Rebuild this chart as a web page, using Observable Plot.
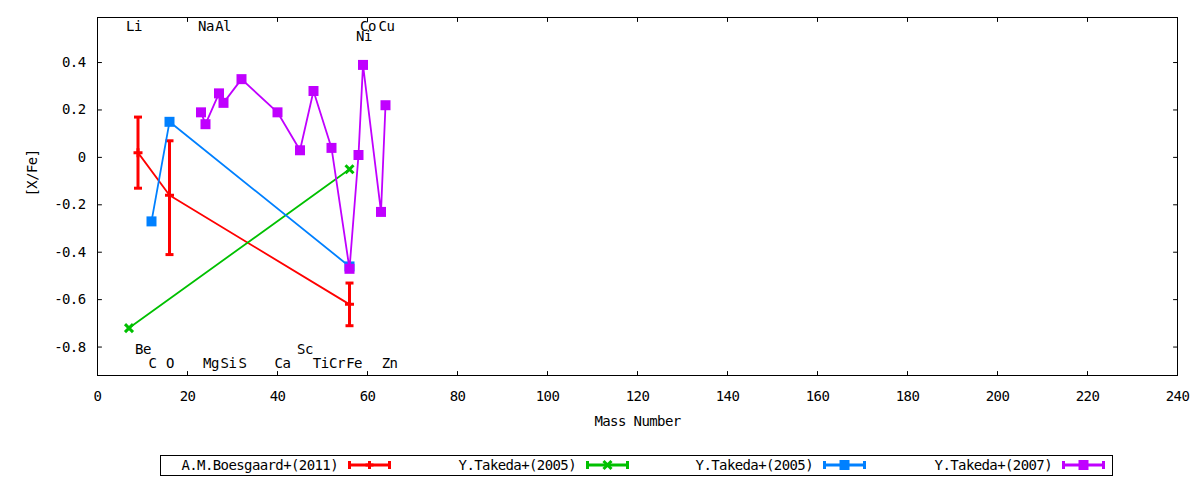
<!DOCTYPE html>
<html><head><meta charset="utf-8">
<script src="https://cdn.jsdelivr.net/npm/d3@7"></script>
<script src="https://cdn.jsdelivr.net/npm/@observablehq/plot@0.6"></script>
<style>
body{margin:0;background:#fff;font-family:"DejaVu Sans Mono",monospace;}
#chart svg text{letter-spacing:-0.6px;}
#legend{position:relative;width:1200px;height:32px;font-size:14px;letter-spacing:-0.6px;color:#000;}
#legend .box{position:absolute;left:160px;top:7px;width:951px;height:19px;border:1px solid #000;}
#legend .lab{position:absolute;top:8px;line-height:18px;white-space:nowrap;text-align:right;}
#legend svg{position:absolute;overflow:visible;}
</style></head>
<body>
<div id="chart"></div>
<div id="legend"></div>
<script>
// ---------- data ----------
const xTicks = [0, 20, 40, 60, 80, 100, 120, 140, 160, 180, 200, 220, 240];
const yTicks = [-0.8, -0.6, -0.4, -0.2, 0, 0.2, 0.4];

const seriesNames = ["A.M.Boesgaard+(2011)", "Y.Takeda+(2005)", "Y.Takeda+(2005)", "Y.Takeda+(2007)"];
const seriesColors = ["#ff0000", "#00c000", "#0080ff", "#c000ff"];

// A.M.Boesgaard+(2011) with error bars
const boesgaardMass = [9, 16, 56];
const boesgaardVal  = [0.02, -0.16, -0.62];
const boesgaardLow  = [-0.13, -0.41, -0.71];
const boesgaardHigh = [0.17, 0.07, -0.53];

// Y.Takeda+(2005) green
const takedaAMass = [7, 56];
const takedaAVal  = [-0.72, -0.05];

// Y.Takeda+(2005) blue
const takedaBMass = [12, 16, 56];
const takedaBVal  = [-0.27, 0.15, -0.46];

// Y.Takeda+(2007) purple
const takeda07Mass = [23, 24, 27, 28, 32, 40, 45, 48, 52, 56, 58, 59, 63, 64];
const takeda07Val  = [0.19, 0.14, 0.27, 0.23, 0.33, 0.19, 0.03, 0.28, 0.04, -0.47, 0.01, 0.39, -0.23, 0.22];

// element labels
const elemNames = ["Li", "Na", "Al", "Co", "Cu", "Ni", "Be", "Sc", "C", "O", "Mg", "Si", "S", "Ca", "Ti", "Cr", "Fe", "Zn"];
const elemX     = [8.1, 24.1, 27.9, 60.1, 64.2, 59.2, 10.1, 46.1, 12.2, 16.1, 25.2, 29.1, 32.2, 41.1, 49.6, 53.2, 57.0, 64.9];
const elemY     = [0.55, 0.55, 0.55, 0.55, 0.55, 0.51, -0.81, -0.81, -0.87, -0.87, -0.87, -0.87, -0.87, -0.87, -0.87, -0.87, -0.87, -0.87];

const xDomain = [0, 240];
const yDomain = [-0.92, 0.59];

// ---------- symbols ----------
const rad = s => Math.sqrt(s / Math.PI);
const symHBar = {draw(c, s) { const r = rad(s); c.moveTo(-r, 0); c.lineTo(r, 0); }};
const symPlus = {draw(c, s) { const r = rad(s); c.moveTo(-r, 0); c.lineTo(r, 0); c.moveTo(0, -r); c.lineTo(0, r); }};
const symTimes = {draw(c, s) { const r = rad(s); c.moveTo(-r, -r); c.lineTo(r, r); c.moveTo(-r, r); c.lineTo(r, -r); }};
const symSquare = {draw(c, s) { const r = rad(s); c.rect(-r, -r, 2 * r, 2 * r); }};
const tickShape = {draw(c, l) { c.moveTo(0, 0); c.lineTo(0, -l); }};

// ---------- tables ----------
const rows = (m, v) => m.map((x, i) => ({x, y: v[i]}));
const boesRows = boesgaardMass.map((x, i) => ({x, y: boesgaardVal[i], lo: boesgaardLow[i], hi: boesgaardHigh[i]}));
const takedaARows = rows(takedaAMass, takedaAVal);
const takedaBRows = rows(takedaBMass, takedaBVal);
const takeda07Rows = rows(takeda07Mass, takeda07Val);
const elemRows = elemNames.map((t, i) => ({t, x: elemX[i], y: elemY[i]}));

const fmt = d => String(+(+d).toFixed(1));
const lw = 1.8;

const chart = Plot.plot({
  width: 1200,
  height: 448,
  marginTop: 17,
  marginBottom: 73,
  marginLeft: 97,
  marginRight: 23,
  style: {fontFamily: "DejaVu Sans Mono", fontSize: "14px", background: "#fff", color: "#000"},
  x: {domain: xDomain},
  y: {domain: yDomain},
  marks: [
    Plot.frame({stroke: "#000", strokeWidth: 1}),
    Plot.vector(xTicks, {x: d => d, frameAnchor: "bottom", rotate: 0, length: 4, anchor: "start", shape: tickShape, stroke: "#000", strokeWidth: 1}),
    Plot.vector(xTicks, {x: d => d, frameAnchor: "top", rotate: 180, length: 4, anchor: "start", shape: tickShape, stroke: "#000", strokeWidth: 1}),
    Plot.vector(yTicks, {y: d => d, frameAnchor: "left", rotate: 90, length: 4, anchor: "start", shape: tickShape, stroke: "#000", strokeWidth: 1}),
    Plot.vector(yTicks, {y: d => d, frameAnchor: "right", rotate: -90, length: 4, anchor: "start", shape: tickShape, stroke: "#000", strokeWidth: 1}),
    Plot.axisX({ticks: xTicks, tickSize: 0, tickPadding: 16, tickFormat: d => String(d), label: null, fontSize: 14}),
    Plot.axisY({ticks: yTicks, tickSize: 0, tickPadding: 12, tickFormat: fmt, label: null, fontSize: 14}),
    Plot.text(["Mass Number"], {frameAnchor: "bottom", dy: 50, fontSize: 14}),
    Plot.text(["[X/Fe]"], {frameAnchor: "left", dx: -65, rotate: -90, fontSize: 14}),
    Plot.text(elemRows, {x: "x", y: "y", text: "t", fontSize: 14, textAnchor: "middle"}),

    // Boesgaard (red)
    Plot.line(boesRows, {x: "x", y: "y", stroke: seriesColors[0], strokeWidth: lw}),
    Plot.ruleX(boesRows, {x: "x", y1: "lo", y2: "hi", stroke: seriesColors[0], strokeWidth: 3}),
    Plot.dot(boesRows, {x: "x", y: "lo", symbol: symHBar, r: 4, fill: "none", stroke: seriesColors[0], strokeWidth: 3}),
    Plot.dot(boesRows, {x: "x", y: "hi", symbol: symHBar, r: 4, fill: "none", stroke: seriesColors[0], strokeWidth: 3}),
    Plot.dot(boesRows, {x: "x", y: "y", symbol: symPlus, r: 4.5, fill: "none", stroke: seriesColors[0], strokeWidth: 3}),

    // Takeda 2005 (green)
    Plot.line(takedaARows, {x: "x", y: "y", stroke: seriesColors[1], strokeWidth: lw}),
    Plot.dot(takedaARows, {x: "x", y: "y", symbol: symTimes, r: 4, fill: "none", stroke: seriesColors[1], strokeWidth: 3}),

    // Takeda 2005 (blue)
    Plot.line(takedaBRows, {x: "x", y: "y", stroke: seriesColors[2], strokeWidth: lw}),
    Plot.dot(takedaBRows, {x: "x", y: "y", symbol: symSquare, r: 5, fill: seriesColors[2], stroke: "none"}),

    // Takeda 2007 (purple)
    Plot.line(takeda07Rows, {x: "x", y: "y", stroke: seriesColors[3], strokeWidth: lw}),
    Plot.dot(takeda07Rows, {x: "x", y: "y", symbol: symSquare, r: 5, fill: seriesColors[3], stroke: "none"})
  ]
});
document.getElementById("chart").appendChild(chart);

// ---------- legend (HTML below the SVG) ----------
const legendSymbols = [symPlus, symTimes, symSquare, symSquare];
const legendFilled = [false, false, true, true];
const sampleLeft = [348, 586, 823, 1062];
const sampleWidth = 43;
const legend = d3.select("#legend");
legend.append("div").attr("class", "box");
seriesNames.forEach((name, i) => {
  legend.append("div").attr("class", "lab")
    .style("right", (1200 - (sampleLeft[i] - 10)) + "px")
    .text(name);
  const svg = legend.append("svg")
    .attr("width", sampleWidth).attr("height", 12)
    .style("left", sampleLeft[i] + "px").style("top", "11px");
  const c = seriesColors[i];
  svg.append("path")
    .attr("d", `M1.5,6H${sampleWidth - 1.5}M1.5,2V10M${sampleWidth - 1.5},2V10`)
    .attr("stroke", c).attr("stroke-width", 3).attr("fill", "none");
  const r = legendFilled[i] ? 5 : 4;
  svg.append("path")
    .attr("transform", `translate(${sampleWidth / 2},6)`)
    .attr("d", d3.symbol(legendSymbols[i], Math.PI * r * r)())
    .attr("fill", legendFilled[i] ? c : "none")
    .attr("stroke", legendFilled[i] ? "none" : c)
    .attr("stroke-width", 3);
});
</script>
</body></html>
